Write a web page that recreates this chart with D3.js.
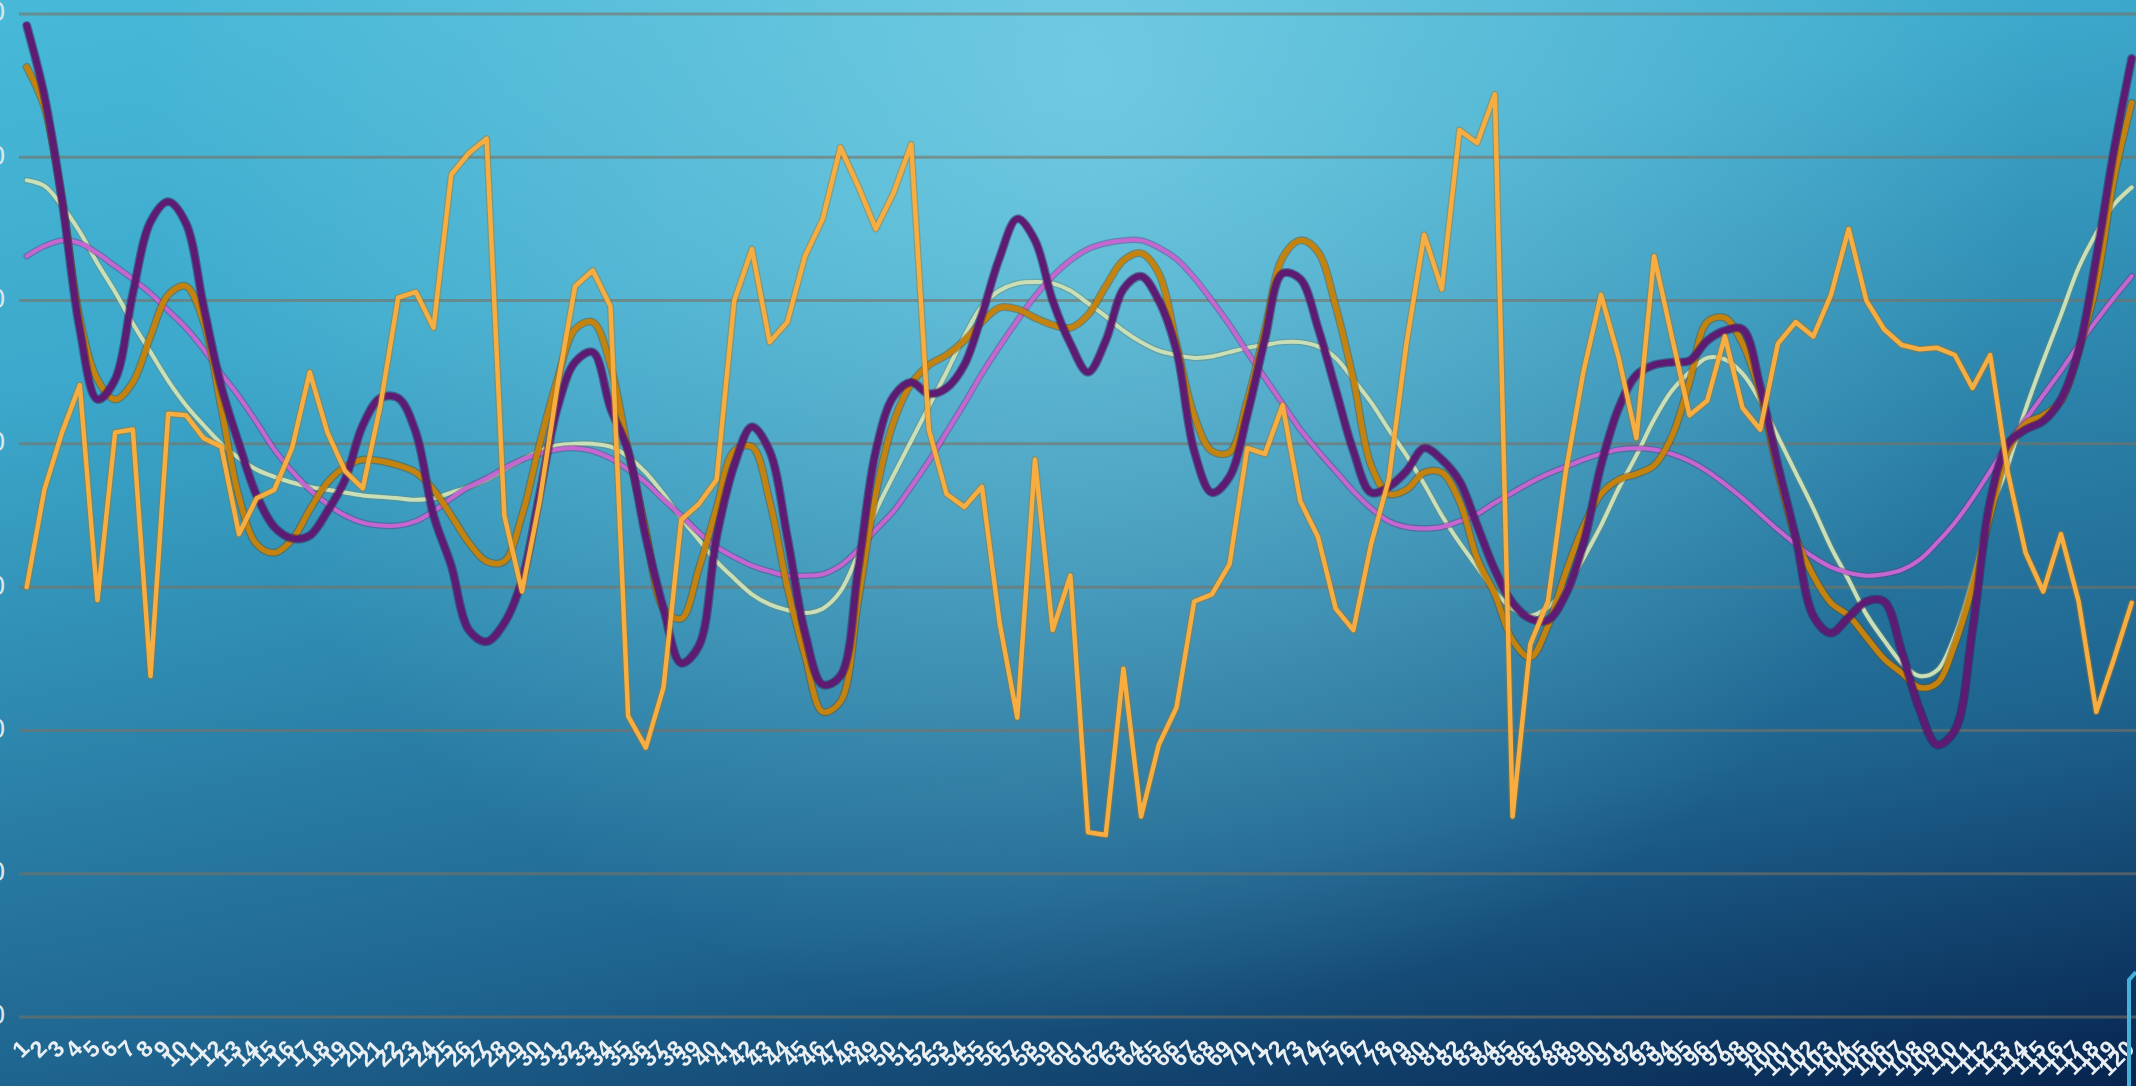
<!DOCTYPE html>
<html>
<head>
<meta charset="utf-8">
<script src="https://cdn.jsdelivr.net/npm/d3@7"></script>
<style>
  html, body { margin: 0; padding: 0; background: #0b2f5a; overflow: hidden; }
  svg { display: block; }
</style>
</head>
<body>
<div id="chart"></div>
<script>
// ---------------------------------------------------------
// data (one value per point, 120 points)
// ---------------------------------------------------------
const xLabels = d3.range(1, 121);
const yTicks = [-30, -20, -10, 0, 10, 20, 30, 40];

const raw = [
  0, 6.8, 10.8, 14.1, -0.9, 10.8, 11, -6.2, 12.1, 12,
  10.4, 9.8, 3.7, 6.2, 6.8, 9.7, 15, 10.8, 8.1, 6.9,
  12.7, 20.2, 20.6, 18.1, 28.8, 30.3, 31.3, 5, -0.3, 6,
  14, 21, 22.1, 19.6, -9, -11.2, -7, 4.7, 5.8, 7.5,
  20, 23.6, 17.1, 18.5, 23.1, 25.7, 30.7, 28, 25, 27.5,
  30.9, 11, 6.5, 5.6, 7, -2.5, -9.1, 8.9, -3, 0.8,
  -17.1, -17.3, -5.7, -16, -11, -8.4, -1, -0.5, 1.6, 9.7,
  9.3, 12.7, 6, 3.5, -1.5, -3, 3, 7.5, 17, 24.6,
  20.8, 31.9, 31, 34.4, -16, -4, -1, 8, 15, 20.4,
  16, 10.4, 23.1, 17.5, 12, 13, 17.5, 12.5, 11, 17,
  18.5, 17.5, 20.4, 25, 20, 18, 16.9, 16.6, 16.7, 16.2,
  13.9, 16.2, 8, 2.4, -0.3, 3.7, -1, -8.7, -5, -1.1
];

const smoothA = [ // dark orange
  36.3, 33.5, 27, 18.8, 14.5, 13.1, 14.3, 17.5, 20.4, 21,
  18.5, 12.5, 6.3, 3, 2.4, 3.3, 5.4, 7.3, 8.4, 8.9,
  8.8, 8.5, 8, 6.8, 5, 3.1, 1.8, 1.8, 5, 10,
  14.5, 18, 18.5, 15.5, 9.5, 4, -1.5, -2.2, 1.3, 5.5,
  9.5, 9.8, 6, 0, -4.8, -8.7, -8, -1, 6.5, 11.5,
  14.2, 15.5, 16.2, 17.2, 18.5, 19.5, 19.4, 18.8, 18.3, 18.1,
  19, 21, 22.8, 23.3, 21.9, 17, 12, 9.5, 9.4, 13,
  18, 23, 24.2, 23.4, 19.6, 14.5, 8.5, 6.5, 6.8, 8,
  8, 6, 2, -0.5, -3.7, -4.9, -2.7, 1, 4.2, 6.5,
  7.5, 7.9, 8.5, 10.5, 14.3, 18.5, 18.8, 17, 13.5, 8,
  3.5, 0.8, -1.1, -2, -3.5, -5, -6, -7, -6.7, -4,
  0, 5, 9.5, 11.4, 12, 13, 16.5, 21.1, 28.5, 33.8
];

const smoothB = [ // dark purple
  39.2, 34.3, 27, 18, 13.1, 14.5, 20.5, 25.5, 26.9, 25.4,
  19.6, 14, 10, 6.4, 4.2, 3.4, 3.6, 5.3, 7.5, 11.3,
  13.2, 13.2, 10.8, 5, 1.5, -3, -3.8, -2.5, 0.5, 6.5,
  12.5, 15.7, 16.4, 12.5, 9.5, 3.5, -1.5, -5.3, -4.1, 3.5,
  8.5, 11.2, 9.5, 3.5, -3.2, -6.8, -6.2, 1.2, 9.5, 13.3,
  14.3, 13.5, 13.9, 15.5, 19, 23, 25.7, 24.2, 20, 17,
  15, 17.2, 20.8, 21.7, 20, 16.5, 9.5, 6.6, 7.7, 12,
  17.3, 21.9, 21.5, 18.1, 13.8, 9.5, 6.6, 7, 8.1, 9.7,
  8.9, 7.4, 4.3, 1.2, -1.1, -2.2, -2.3, -0.5, 3, 8.5,
  12.5, 14.8, 15.5, 15.7, 15.8, 17.2, 17.9, 18, 14, 8.5,
  3.5, -2, -3.2, -2.1, -1, -1, -4.5, -8.5, -11, -10,
  -3, 6, 10, 11, 11.6, 13.1, 16.5, 23, 30.5, 36.9
];

const smoothC = [ // pale green
  28.4, 28, 26.6, 24.8, 22.6, 20.6, 18.4, 16.4, 14.4, 12.7,
  11.3, 10, 9, 8.2, 7.7, 7.3, 7, 6.8, 6.6, 6.4,
  6.3, 6.2, 6.1, 6.2, 6.6, 7, 7.5, 8.2, 8.9, 9.5,
  9.9, 10, 10, 9.8, 9.1, 8, 6.5, 4.8, 3.3, 1.8,
  0.6, -0.5, -1.2, -1.6, -1.8, -1.5, -0.3, 2.3, 5.3, 7.8,
  10.2, 12.6, 15, 17.5, 19.6, 20.7, 21.2, 21.3, 21.2, 20.7,
  19.8, 18.9, 17.9, 17.1, 16.5, 16.2, 16, 16.1, 16.4, 16.7,
  16.9, 17.1, 17.1, 16.8, 16, 14.5, 12.9, 11, 9.2, 7.2,
  5, 3.1, 1.4, -0.3, -1.5, -2, -1.4, -0.1, 2, 4.3,
  6.9, 9.2, 11.7, 13.7, 15, 16, 15.9, 14.9, 13, 10.5,
  8, 5.5, 2.8, 0.5, -1.9, -3.7, -5.3, -6.2, -5.8, -3.4,
  0.5, 5.2, 8.5, 12.4, 15.8, 19, 22.3, 24.7, 26.7, 27.9
];

const smoothD = [ // orchid
  23.1, 23.8, 24.2, 24, 23.3, 22.4, 21.5, 20.5, 19.3, 18.1,
  16.6, 14.9, 13.3, 11.5, 9.6, 8.1, 6.8, 5.8, 5, 4.5,
  4.3, 4.3, 4.6, 5.3, 6.2, 7, 7.6, 8.3, 8.9, 9.3,
  9.6, 9.7, 9.5, 9, 8.2, 7.3, 6.1, 5, 3.8, 2.8,
  2.1, 1.5, 1.1, 0.8, 0.8, 0.9, 1.5, 2.6, 4, 5.3,
  7, 8.8, 10.8, 12.8, 14.9, 16.8, 18.6, 20.3, 21.7, 22.8,
  23.6, 24, 24.2, 24.2, 23.7, 22.9, 21.6, 20, 18.3, 16.4,
  14.6, 12.8, 11, 9.5, 8.1, 6.7, 5.5, 4.6, 4.2, 4.1,
  4.2, 4.6, 5.1, 5.9, 6.6, 7.3, 7.9, 8.4, 8.9, 9.3,
  9.6, 9.7, 9.6, 9.3, 8.8, 8.1, 7.2, 6.2, 5.1, 4,
  3, 2.1, 1.4, 1, 0.8, 0.9, 1.2, 1.9, 3.1, 4.5,
  6.2, 8.1, 10, 11.7, 13.4, 15.1, 16.9, 18.6, 20.2, 21.7
];

// draw order: first is at the bottom
const series = [
  { name: 'pale',   values: smoothC, color: '#cadfb6', edge: '#6d8a78', width: 4,   curve: d3.curveCatmullRom },
  { name: 'orchid', values: smoothD, color: '#c666d2', edge: '#6a3a7a', width: 4,   curve: d3.curveCatmullRom },
  { name: 'amber',  values: smoothA, color: '#c4820f', edge: '#6e4a10', width: 5.5, curve: d3.curveCatmullRom },
  { name: 'plum',   values: smoothB, color: '#5e1b74', edge: '#3a1048', width: 6.5, curve: d3.curveCatmullRom },
  { name: 'raw',    values: raw,     color: '#f8ad40', edge: '#a8741e', width: 4.5, curve: d3.curveLinear },
];

const W = 2136, H = 1086;

const svg = d3.select('#chart').append('svg')
  .attr('width', W).attr('height', H);

// background
const defs = svg.append('defs');
const base = defs.append('linearGradient').attr('id', 'bg')
  .attr('gradientUnits', 'userSpaceOnUse')
  .attr('x1', 0).attr('y1', 0).attr('x2', 353).attr('y2', 1909);
[[0, '#48b9d8'], [0.2, '#3ca8cb'], [0.55, '#1e648f'], [0.75, '#06244f'], [1, '#041a40']]
  .forEach(([o, c]) => base.append('stop').attr('offset', o).attr('stop-color', c));

const glow = defs.append('radialGradient').attr('id', 'glow')
  .attr('gradientUnits', 'userSpaceOnUse')
  .attr('cx', 1090).attr('cy', 80).attr('r', 950);
glow.append('stop').attr('offset', 0).attr('stop-color', '#8fdcec').attr('stop-opacity', 0.6);
glow.append('stop').attr('offset', 1).attr('stop-color', '#8fdcec').attr('stop-opacity', 0);

const soft = defs.append('filter').attr('id', 'soft');
soft.append('feGaussianBlur').attr('stdDeviation', 0.6);

svg.append('rect').attr('width', W).attr('height', H).attr('fill', 'url(#bg)');
svg.append('rect').attr('width', W).attr('height', H).attr('fill', 'url(#glow)');

const x = d3.scaleLinear().domain([0, raw.length - 1]).range([26.7, 2131.7]);
const y = d3.scaleLinear().domain([-30, 40]).range([1017, 14]);

// gridlines
svg.append('g').selectAll('line').data(yTicks).join('line')
  .attr('x1', 19).attr('x2', W)
  .attr('y1', d => y(d)).attr('y2', d => y(d))
  .attr('stroke', '#7a7162').attr('stroke-opacity', 0.6).attr('stroke-width', 3);

// y labels (mostly off the left edge)
svg.append('g').selectAll('text').data(yTicks).join('text')
  .attr('x', 5).attr('y', d => y(d))
  .attr('text-anchor', 'end').attr('dominant-baseline', 'middle')
  .style('font-family', '"Liberation Sans", sans-serif')
  .style('font-size', '28px')
  .style('fill', '#dde6ec')
  .text(d => d);

// x labels, one per point, crowded like the original
svg.append('g').attr('filter', 'url(#soft)')
  .selectAll('text').data(xLabels).join('text')
  .attr('transform', (d, i) => `translate(${x(i) + 4},1050) rotate(-45)`)
  .attr('text-anchor', 'end')
  .style('font-family', '"Liberation Sans", sans-serif')
  .style('font-size', '23px')
  .style('font-weight', 'bold')
  .style('fill', '#e9eff3')
  .text(d => d);

// lines
const gLines = svg.append('g');
series.forEach(s => {
  const line = d3.line().x((d, i) => x(i)).y(d => y(d)).curve(s.curve);
  gLines.append('path').datum(s.values)
    .attr('d', line).attr('fill', 'none')
    .attr('stroke', s.edge).attr('stroke-opacity', 0.45)
    .attr('stroke-width', s.width + 2.5)
    .attr('stroke-linejoin', 'round').attr('stroke-linecap', 'round');
  gLines.append('path').datum(s.values)
    .attr('class', `line-${s.name}`)
    .attr('d', line).attr('fill', 'none')
    .attr('stroke', s.color).attr('stroke-width', s.width)
    .attr('stroke-linejoin', 'round').attr('stroke-linecap', 'round');
});

// slide frame corner, bottom right
svg.append('path')
  .attr('d', `M${W},972 L2129,980 L2129,${H}`)
  .attr('fill', 'none').attr('stroke', '#45b0d8').attr('stroke-width', 4);
</script>
</body>
</html>
